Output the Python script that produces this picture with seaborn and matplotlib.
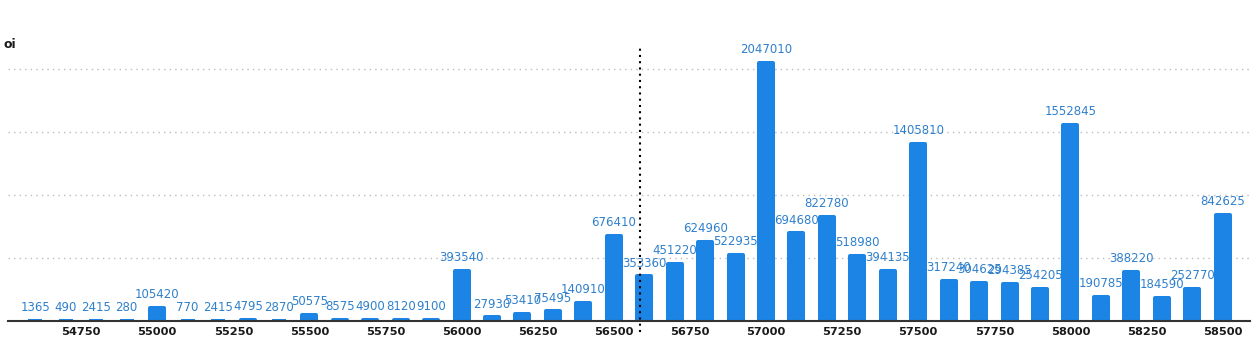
import matplotlib
matplotlib.use("Agg")
import matplotlib.pyplot as plt
import seaborn as sns

# Open interest by strike
strikes = [54600, 54700, 54800, 54900, 55000, 55100, 55200, 55300, 55400, 55500,
           55600, 55700, 55800, 55900, 56000, 56100, 56200, 56300, 56400, 56500,
           56600, 56700, 56800, 56900, 57000, 57100, 57200, 57300, 57400, 57500,
           57600, 57700, 57800, 57900, 58000, 58100, 58200, 58300, 58400, 58500]
oi = [1365, 490, 2415, 280, 105420, 770, 2415, 4795, 2870, 50575,
      8575, 4900, 8120, 9100, 393540, 27930, 53410, 75495, 140910, 676410,
      353360, 451220, 624960, 522935, 2047010, 694680, 822780, 518980, 394135, 1405810,
      317240, 304625, 294385, 254205, 1552845, 190785, 388220, 184590, 252770, 842625]
tick_strikes = [54750, 55000, 55250, 55500, 55750, 56000, 56250, 56500,
                56750, 57000, 57250, 57500, 57750, 58000, 58250, 58500]
grid_levels = [0, 500000, 1000000, 1500000, 2000000]
spot_price = 56585

BAR_COLOR = "#1c84e4"
LABEL_COLOR = "#2f80cc"

sns.set_style("white")
plt.rcParams["font.family"] = ["DejaVu Sans"]

W, H = 1259, 339
fig = plt.figure(figsize=(W / 100, H / 100), dpi=100)
ax = fig.add_axes([8 / W, 18 / H, 1242 / W, 276 / H])

sns.barplot(x=strikes, y=oi, native_scale=True, width=0.46, color=BAR_COLOR,
            saturation=1, ax=ax, zorder=3)

# rounded corners via a thick round-joined edge of the same colour
for p in ax.patches:
    p.set_edgecolor(BAR_COLOR)
    p.set_linewidth(2.9)
    p.set_joinstyle("round")

ax.bar_label(ax.containers[0], labels=[str(v) for v in oi], padding=5,
             color=LABEL_COLOR, fontsize=8.5, zorder=4)

ax.set_xlim(54510, 58590)
ax.set_ylim(0, 2190000)

ax.set_xticks(tick_strikes)
ax.set_xticklabels([str(t) for t in tick_strikes], fontsize=8.2, fontweight="bold",
                   color="#1a1a1a")
ax.tick_params(axis="x", length=0, pad=4)
ax.set_yticks(grid_levels)
ax.set_yticklabels([])
ax.tick_params(axis="y", length=0)

ax.grid(axis="y", color="#bcbcbc", linestyle=(0, (1, 3)), linewidth=1.0, zorder=0)
ax.grid(axis="x", visible=False)

for side in ["top", "left", "right"]:
    ax.spines[side].set_visible(False)
ax.spines["bottom"].set_color("#333333")
ax.spines["bottom"].set_linewidth(1.5)
ax.spines["bottom"].set_zorder(5)

ax.axvline(spot_price, ymin=-0.04, ymax=0.99, color="black",
           linestyle=(0, (1, 2)), linewidth=1.5, clip_on=False, zorder=6)

ax.set_xlabel("")
ax.set_ylabel("")
fig.text(4 / W, 1 - 45 / H, "oi", fontsize=9, fontweight="bold",
         color="#1a1a1a", va="center", ha="left")

fig.savefig("out.png", dpi=100)
